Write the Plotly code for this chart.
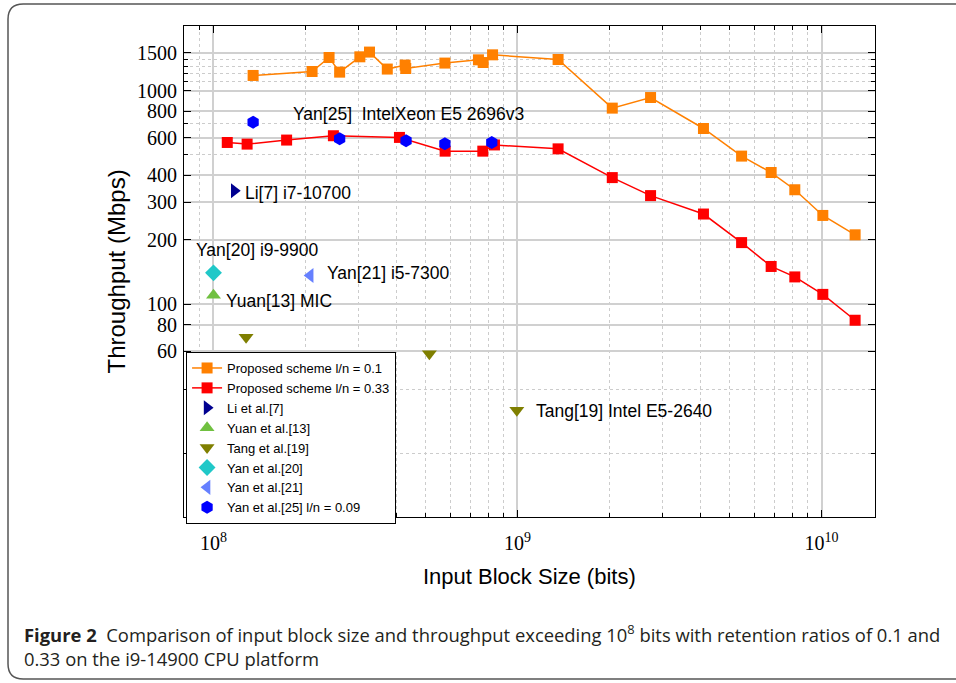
import plotly.graph_objects as go

# ---------------- data ----------------
prop01_x = [1.35e8, 2.11e8, 2.40e8, 2.60e8, 3.03e8, 3.26e8, 3.73e8, 4.27e8, 4.29e8,
            5.77e8, 7.44e8, 7.71e8, 8.28e8, 1.36e9, 2.05e9, 2.74e9, 4.09e9, 5.46e9,
            6.83e9, 8.17e9, 1.01e10, 1.29e10]
prop01_y = [1176, 1227, 1427, 1219, 1438, 1513, 1260, 1315, 1268,
            1344, 1392, 1352, 1469, 1397, 827, 927, 664, 493,
            413, 343, 260, 211]

prop033_x = [1.11e8, 1.29e8, 1.74e8, 2.48e8, 4.09e8, 5.78e8, 7.69e8, 8.40e8, 1.36e9,
             2.05e9, 2.74e9, 4.09e9, 5.46e9, 6.83e9, 8.17e9, 1.01e10, 1.29e10]
prop033_y = [571, 561, 586, 614, 603, 520, 520, 556, 533,
             391, 322, 264, 194, 150, 134, 111, 84]

li7_x = [1.17e8]
li7_y = [339]
yuan13_x = [1.0e8]
yuan13_y = [110]
tang19_x = [1.28e8, 5.13e8, 9.95e8, 1.277e10]
tang19_y = [70, 58.5, 31.8, 10]
yan20_x = [1.0e8]
yan20_y = [140]
yan21_x = [2.08e8]
yan21_y = [136]
yan25_x = [1.35e8, 2.60e8, 4.30e8, 5.77e8, 8.23e8]
yan25_y = [711, 594, 581, 563, 571]

x_major = [1e8, 1e9, 1e10]
x_major_text = ["10<sup>8</sup>", "10<sup>9</sup>", "10<sup>10</sup>"]
x_minor = [9e7] + [k * 1e8 for k in range(2, 10)] + [k * 1e9 for k in range(2, 10)]
y_major = [60, 80, 100, 200, 300, 400, 600, 800, 1000, 1500]
y_minor = [20, 40, 500, 700, 1100, 1200, 1300, 1400]

# label texts: (text, log10 x of left edge, log10 y of centre)
labels = [
    ("Yan[25]&nbsp;&nbsp;IntelXeon E5 2696v3", 8.256, 2.891),
    ("Li[7] i7-10700", 8.098, 2.521),
    ("Yan[20] i9-9900", 7.937, 2.254),
    ("Yan[21] i5-7300", 8.368, 2.146),
    ("Yuan[13] MIC", 8.035, 2.015),
    ("Tang[19] Intel E5-2640", 9.055, 1.500),
]

SANS = "Liberation Sans, Arial, sans-serif"
SERIF = "Liberation Serif, Times New Roman, serif"

fig = go.Figure()
fig.add_trace(go.Scatter(x=prop01_x, y=prop01_y, mode="lines+markers",
                         name="Proposed scheme l/n = 0.1",
                         line=dict(color="#FF8000", width=1.5),
                         marker=dict(symbol="square", size=11, color="#FF8000")))
fig.add_trace(go.Scatter(x=prop033_x, y=prop033_y, mode="lines+markers",
                         name="Proposed scheme l/n = 0.33",
                         line=dict(color="#FF0000", width=1.5),
                         marker=dict(symbol="square", size=11, color="#FF0000")))
fig.add_trace(go.Scatter(x=li7_x, y=li7_y, mode="markers", name="Li et al.[7]",
                         marker=dict(symbol="triangle-right", size=13, color="#000090")))
fig.add_trace(go.Scatter(x=yuan13_x, y=yuan13_y, mode="markers", name="Yuan et al.[13]",
                         marker=dict(symbol="triangle-up", size=13, color="#70C040")))
fig.add_trace(go.Scatter(x=tang19_x, y=tang19_y, mode="markers", name="Tang et al.[19]",
                         cliponaxis=False,
                         marker=dict(symbol="triangle-down", size=13, color="#7F7F00")))
fig.add_trace(go.Scatter(x=yan20_x, y=yan20_y, mode="markers", name="Yan et al.[20]",
                         marker=dict(symbol="diamond", size=13, color="#20C8C8")))
fig.add_trace(go.Scatter(x=yan21_x, y=yan21_y, mode="markers", name="Yan et al.[21]",
                         marker=dict(symbol="triangle-left", size=13, color="#6680FF")))
fig.add_trace(go.Scatter(x=yan25_x, y=yan25_y, mode="markers", name="Yan et al.[25] l/n = 0.09",
                         marker=dict(symbol="hexagon", size=13, color="#0000FF")))

for text, lx, ly in labels:
    fig.add_annotation(x=lx, y=ly, xref="x", yref="y", text=text, showarrow=False,
                       xanchor="left", yanchor="middle",
                       font=dict(family=SANS, size=17.5, color="black"))

# axis titles
fig.add_annotation(x=-0.097, y=0.5, xref="paper", yref="paper", text="Throughput (Mbps)",
                   textangle=-90, showarrow=False, xanchor="center", yanchor="middle",
                   font=dict(family=SANS, size=24, color="black"))
fig.add_annotation(x=0.5, y=-0.122, xref="paper", yref="paper", text="Input Block Size (bits)",
                   showarrow=False, xanchor="center", yanchor="middle",
                   font=dict(family=SANS, size=22, color="black"))

# caption
fig.add_annotation(x=-0.2344, y=-0.2363, xref="paper", yref="paper",
                   text="<b>Figure 2</b>&nbsp;&nbsp;Comparison of input block size and throughput exceeding 10<sup>8</sup> bits with retention ratios of 0.1 and",
                   showarrow=False, xanchor="left", yanchor="middle",
                   font=dict(family="Open Sans, sans-serif", size=18.4, color="#231f20"))
fig.add_annotation(x=-0.2344, y=-0.2892, xref="paper", yref="paper",
                   text="0.33 on the i9-14900 CPU platform",
                   showarrow=False, xanchor="left", yanchor="middle",
                   font=dict(family="Open Sans, sans-serif", size=18.4, color="#231f20"))

# rounded frame around figure
L, R, T, B = -0.2547, 1.17, 1.0448, -0.330
rx, ry = 0.022, 0.031
frame_path = (f"M {L+rx},{T} L {R},{T} L {R},{B} L {L+rx},{B} "
              f"Q {L},{B} {L},{B+ry} L {L},{T-ry} Q {L},{T} {L+rx},{T} Z")
fig.add_shape(type="path", xref="paper", yref="paper", path=frame_path,
              line=dict(color="#555555", width=1.5), layer="below")

fig.update_layout(
    width=956, height=683,
    margin=dict(l=184, r=81, t=26, b=166, autoexpand=False),
    paper_bgcolor="white", plot_bgcolor="white",
    showlegend=True,
    legend=dict(x=0.003, y=0.336, xanchor="left", yanchor="top",
                bgcolor="white", bordercolor="black", borderwidth=1,
                font=dict(family=SANS, size=13, color="black"),
                tracegroupgap=0, itemsizing="trace",
                entrywidth=200, entrywidthmode="pixels"),
    xaxis=dict(type="log", range=[7.903, 10.176], automargin=False,
               tickmode="array", tickvals=x_major, ticktext=x_major_text,
               ticks="inside", ticklen=7, tickwidth=1, tickcolor="black",
               showline=True, linecolor="black", linewidth=1.2, mirror="ticks",
               showgrid=True, gridcolor="#d0d0d0", gridwidth=1.5,
               tickfont=dict(family=SERIF, size=20, color="black"),
               ticklabelstandoff=8, zeroline=False,
               minor=dict(tickmode="array", tickvals=x_minor, ticks="inside", ticklen=4,
                          tickcolor="black", showgrid=True, gridcolor="#cccccc",
                          griddash="dot", gridwidth=1)),
    yaxis=dict(type="log", range=[1.003, 3.302], automargin=False,
               tickmode="array", tickvals=y_major, ticktext=[str(v) for v in y_major],
               ticks="inside", ticklen=7, tickwidth=1, tickcolor="black",
               showline=True, linecolor="black", linewidth=1.2, mirror="ticks",
               showgrid=True, gridcolor="#d0d0d0", gridwidth=1.5,
               tickfont=dict(family=SERIF, size=20, color="black"),
               ticklabelstandoff=2, zeroline=False,
               minor=dict(tickmode="array", tickvals=y_minor, ticks="inside", ticklen=4,
                          tickcolor="black", showgrid=True, gridcolor="#cccccc",
                          griddash="dot", gridwidth=1)),
)

fig.write_html("out.html", config={"displayModeBar": False},
               post_script="document.body.style.margin='0';document.body.style.padding='0';")
